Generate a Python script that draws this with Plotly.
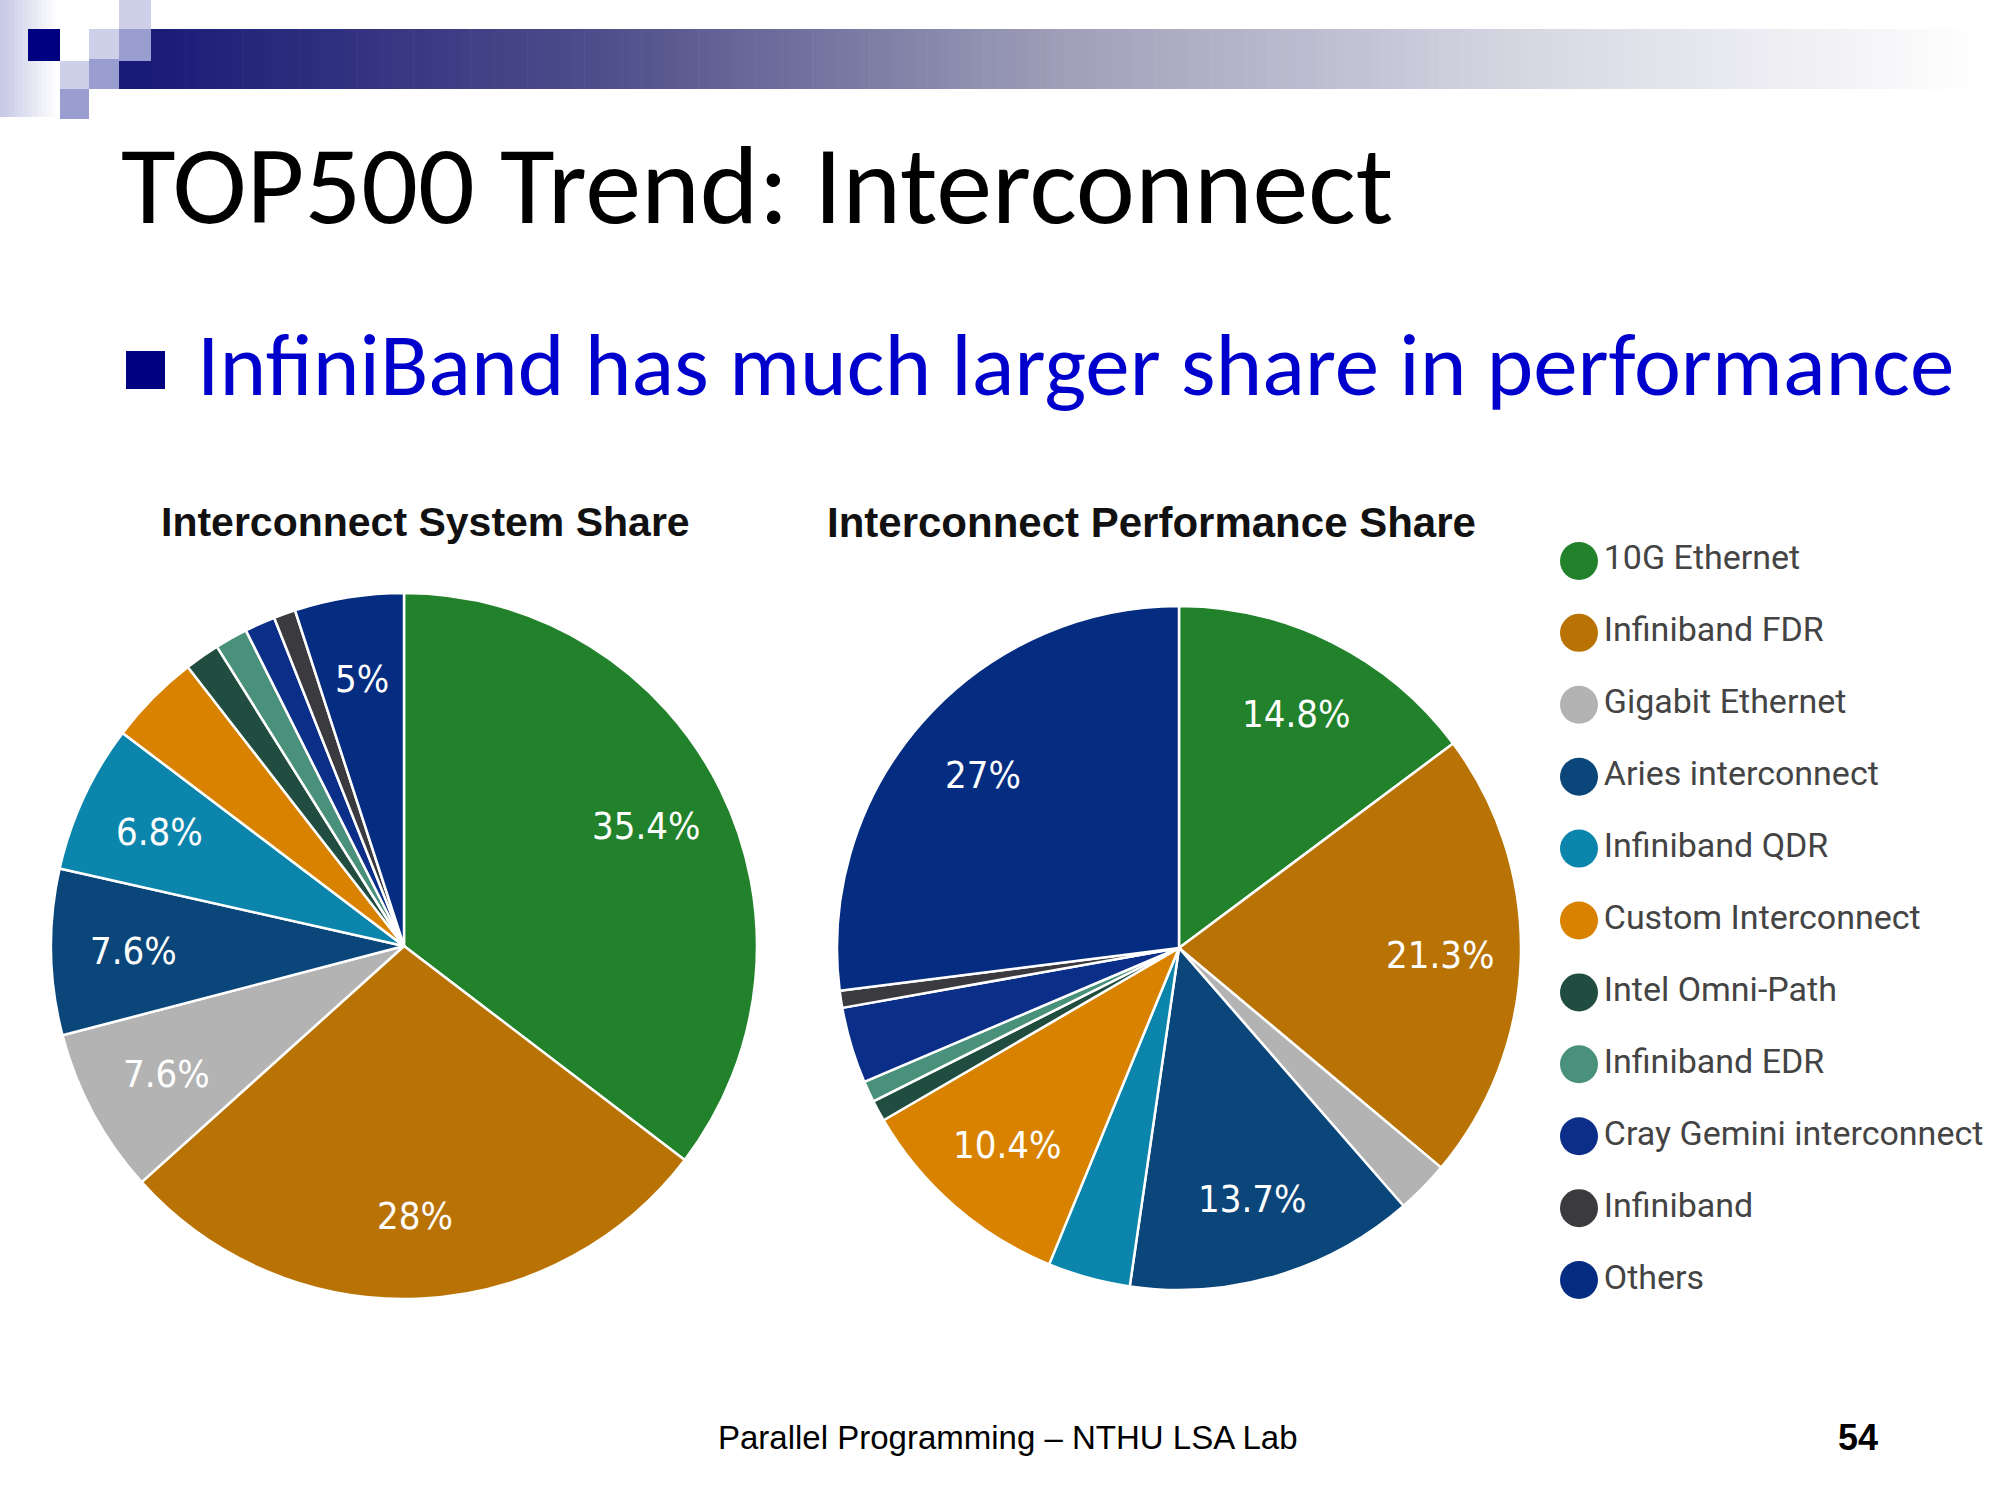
import math
import plotly.graph_objects as go

# ---------------- data ----------------
categories = [
    "10G Ethernet", "Infiniband FDR", "Gigabit Ethernet", "Aries interconnect",
    "Infiniband QDR", "Custom Interconnect", "Intel Omni-Path", "Infiniband EDR",
    "Cray Gemini interconnect", "Infiniband", "Others",
]
system_share = [35.4, 28.0, 7.6, 7.6, 6.8, 4.2, 1.6, 1.5, 1.4, 1.0, 5.0]
performance_share = [14.8, 21.3, 2.5, 13.7, 3.9, 10.4, 1.0, 1.0, 3.6, 0.8, 27.0]
system_labels = ["35.4%", "28%", "7.6%", "7.6%", "6.8%", "", "", "", "", "", "5%"]
performance_labels = ["14.8%", "21.3%", "", "13.7%", "", "10.4%", "", "", "", "", "27%"]
colors = [
    "#22822b", "#b97305", "#b3b3b3", "#0a4679", "#0b85ab", "#d88200",
    "#214d40", "#4a917c", "#0b2f88", "#3b3a3f", "#042c80",
]

W, H = 2000, 1500
def px(x):
    return x / W
def py(y):
    return 1 - y / H

NARROW = "DejaVu Sans Condensed, sans-serif"
LEG = "Roboto, Liberation Sans, sans-serif"
CAL = "Carlito, Lato, Open Sans, sans-serif"
ARIAL = "Liberation Sans, Arial, sans-serif"

# pie geometry (pixels): center x, center y, radius
PIES = [
    (system_share, system_labels, 404, 946, 353),
    (performance_share, performance_labels, 1179, 948, 342),
]

fig = go.Figure()
anns = []
for values, labels, cx, cy, r in PIES:
    fig.add_trace(go.Pie(
        values=values, labels=categories, textinfo="none", sort=False,
        direction="clockwise", rotation=0,
        marker=dict(colors=colors, line=dict(color="white", width=2.5)),
        domain=dict(x=[px(cx - r), px(cx + r)], y=[py(cy + r), py(cy - r)]),
        showlegend=False, hoverinfo="label+percent",
    ))
    # slice labels placed at the mid-angle of each slice
    total = float(sum(values))
    cum = 0.0
    for v, lab in zip(values, labels):
        mid = (cum + v / 2.0) / total
        cum += v
        if not lab:
            continue
        th = 2 * math.pi * mid
        lx = cx + 0.765 * r * math.sin(th)
        ly = cy - 0.765 * r * math.cos(th)
        anns.append(dict(text=lab, x=px(lx), y=py(ly), xanchor="center", yanchor="middle",
                         font=dict(family=NARROW, size=38, color="white")))

# legend drawn as a scatter on a hidden category axis
fig.add_trace(go.Scatter(
    x=[0] * len(categories), y=categories, mode="markers+text", text=categories,
    textposition="middle right", cliponaxis=False,
    marker=dict(color=colors, size=38, symbol="circle", line=dict(width=0)),
    textfont=dict(size=34, color="#444444", family=LEG),
    showlegend=False, hoverinfo="skip", xaxis="x", yaxis="y",
))

fig.update_layout(
    width=W, height=H, margin=dict(l=0, r=0, t=0, b=0),
    paper_bgcolor="white", plot_bgcolor="rgba(0,0,0,0)",
    xaxis=dict(domain=[0.75, 1.0], range=[-0.158, 0.842], visible=False, fixedrange=True),
    yaxis=dict(domain=[py(1316), py(525)], type="category",
               categoryorder="array", categoryarray=categories,
               range=[10.5, -0.5], visible=False, fixedrange=True),
)

anns += [
    dict(text="TOP500 Trend: Interconnect", x=px(119), y=py(185), xanchor="left", yanchor="middle",
         font=dict(family=CAL, size=112, color="black")),
    dict(text="InfiniBand has much larger share in performance", x=px(195), y=py(364),
         xanchor="left", yanchor="middle", font=dict(family=CAL, size=89, color="#0000cc")),
    dict(text="<b>Interconnect System Share</b>", x=px(425), y=py(522), xanchor="center", yanchor="middle",
         font=dict(family=ARIAL, size=41, color="#111111")),
    dict(text="<b>Interconnect Performance Share</b>", x=px(1151), y=py(522), xanchor="center",
         yanchor="middle", font=dict(family=ARIAL, size=42, color="#111111")),
    dict(text="Parallel Programming \u2013 NTHU LSA Lab", x=px(1008), y=py(1437), xanchor="center",
         yanchor="middle", font=dict(family=ARIAL, size=33, color="black")),
    dict(text="<b>54</b>", x=px(1858), y=py(1437), xanchor="center", yanchor="middle",
         font=dict(family=ARIAL, size=36, color="black")),
]
for a in anns:
    a.update(xref="paper", yref="paper", showarrow=False)
fig.update_layout(annotations=anns)

# ---------------- decoration ----------------
shapes = []
def rect(x0, y0, x1, y1, color):
    shapes.append(dict(type="rect", xref="paper", yref="paper", x0=px(x0), x1=px(x1),
                       y0=py(y1), y1=py(y0), fillcolor=color, line=dict(width=0), layer="below"))

# left vertical fading strip
n = 12
for i in range(n):
    t = i / n
    c = tuple(int(a + (255 - a) * t) for a in (200, 202, 230))
    rect(55 * i / n, 0, 55 * (i + 1) / n + 0.5, 117, "rgb(%d,%d,%d)" % c)

# gradient bar
stops = [(0.0, (28, 28, 120)), (0.25, (80, 80, 140)), (0.5, (160, 160, 186)),
         (0.75, (215, 215, 228)), (1.0, (255, 255, 255))]
def grad(t):
    for (t0, c0), (t1, c1) in zip(stops[:-1], stops[1:]):
        if t <= t1:
            f = (t - t0) / (t1 - t0)
            return tuple(int(a + (b - a) * f) for a, b in zip(c0, c1))
    return stops[-1][1]
x_start, x_end, nseg = 151, 1975, 160
for i in range(nseg):
    xa = x_start + (x_end - x_start) * i / nseg
    xb = x_start + (x_end - x_start) * (i + 1) / nseg + 0.6
    rect(xa, 29, xb, 89, "rgb(%d,%d,%d)" % grad(i / nseg))
rect(119, 61, 151.5, 89, "rgb(26,26,122)")

# small squares
rect(28, 29, 60, 61, "#000080")
for (x0, y0, x1, y1) in [(60, 61, 89, 89), (89, 29, 119, 59), (119, 0, 151, 29)]:
    rect(x0, y0, x1, y1, "#cdd0e8")
for (x0, y0, x1, y1) in [(60, 89, 89, 119), (89, 59, 119, 89), (119, 29, 151, 61)]:
    rect(x0, y0, x1, y1, "#9a9dcf")

# bullet square
rect(126, 351, 165, 389, "#000080")

fig.update_layout(shapes=shapes)
fig.write_html("out.html", config={"displayModeBar": False},
               post_script="document.body.style.margin='0';")
